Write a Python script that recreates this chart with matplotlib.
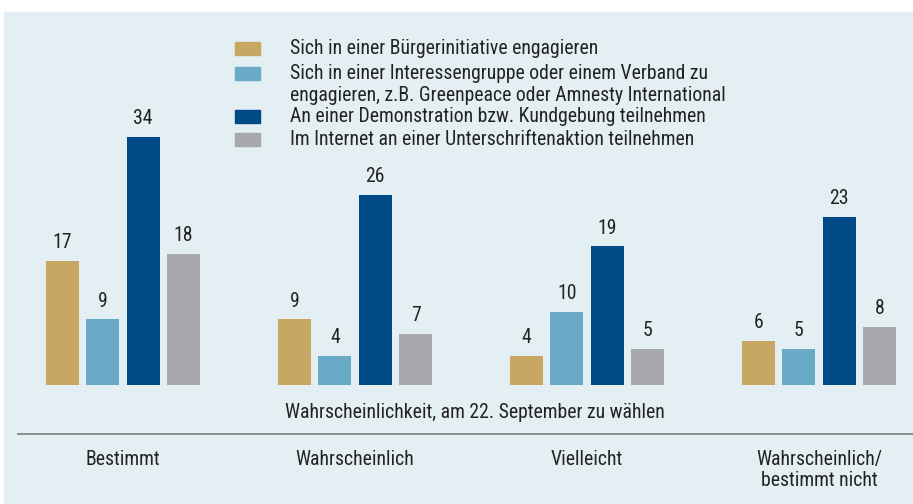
import matplotlib.pyplot as plt
import matplotlib.transforms as mtransforms
from matplotlib.patches import Rectangle
from matplotlib.lines import Line2D
import numpy as np

plt.rcParams['font.family'] = ['Roboto Condensed', 'DejaVu Sans']

categories = ['Bestimmt', 'Wahrscheinlich', 'Vielleicht', 'Wahrscheinlich/\nbestimmt nicht']
series_names = ['Sich in einer Bürgerinitiative engagieren',
                'Sich in einer Interessengruppe oder einem Verband zu\nengagieren, z.B. Greenpeace oder Amnesty International',
                'An einer Demonstration bzw. Kundgebung teilnehmen',
                'Im Internet an einer Unterschriftenaktion teilnehmen']
buerger = [17, 9, 4, 6]
verband = [9, 4, 10, 5]
demo = [34, 26, 19, 23]
internet = [18, 7, 5, 8]
colors = ['#c8a664', '#69aac8', '#004a87', '#a8a9ad']
bg = '#e4eff3'
txt = '#222222'
fs = 14.2

W, H = 913, 504
fig = plt.figure(figsize=(9.13, 5.04), dpi=100)
fig.patches.append(Rectangle((4/W, 0), 1, 492/H, transform=fig.transFigure,
                             color=bg, zorder=-5))

ax = fig.add_axes([0, 119/H, 1, 292/H])
ax.set_facecolor('none')
x = np.arange(len(categories))
w = 0.142
step = 0.174
for i, vals in enumerate([buerger, verband, demo, internet]):
    pos = x + (i - 1.5) * step
    ax.bar(pos, vals, w, color=colors[i])
    for xi, v in zip(pos, vals):
        ax.text(xi, v + 1.2, str(v), ha='center', va='bottom', fontsize=fs, color=txt)

ax.set_xlim(-123/232, 790/232)
ax.set_ylim(0, 40)
ax.axis('off')

# legend, drawn by hand so the swatch sits next to the first line
row_tops = [42, 67, 110, 133]
for name, c, top in zip(series_names, colors, row_tops):
    fig.patches.append(Rectangle((235/W, 1 - (top + 13)/H), 25/W, 13/H,
                                 transform=fig.transFigure, color=c))
    fig.text(290/W, 1 - (top + 6.5)/H, name.split('\n')[0], ha='left', va='center',
             fontsize=fs, color=txt)
    if '\n' in name:
        fig.text(290/W, 1 - (top + 28.5)/H, name.split('\n')[1], ha='left', va='center',
                 fontsize=fs, color=txt)

blend = mtransforms.blended_transform_factory(ax.transData, fig.transFigure)
for xi, c in zip(x, categories):
    ax.text(xi, 1 - 450/H, c, transform=blend, ha='center', va='top',
            fontsize=fs, color=txt, linespacing=1.15)

fig.text(475/W, 1 - 412/H, 'Wahrscheinlichkeit, am 22. September zu wählen',
         ha='center', va='center', fontsize=fs, color=txt)
fig.add_artist(Line2D([18/W, 1], [1 - 434/H, 1 - 434/H], color='#7a7a7a', lw=1.2))

fig.savefig('out.png', dpi=100)
